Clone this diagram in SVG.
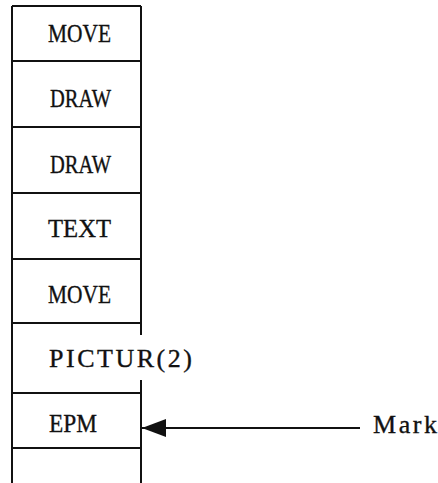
<svg xmlns="http://www.w3.org/2000/svg" width="438" height="483" viewBox="0 0 438 483">
<defs>
<style>
.t{font-family:"Liberation Serif","Times New Roman",serif;font-size:26px;fill:#111;stroke:#111;stroke-width:0.35}
.ln{stroke:#111;stroke-width:2;fill:none}
</style>
<marker id="ah" markerUnits="userSpaceOnUse" markerWidth="26" markerHeight="20" refX="24" refY="9" orient="auto" viewBox="0 0 26 18">
<path d="M0,0 L24,9 L0,18 Z" fill="#111"/>
</marker>
</defs>
<rect width="438" height="483" fill="#fff"/>
<g id="stack" class="ln">
<path d="M12,6 V483"/>
<path d="M12,6 H141"/>
<path d="M141,6 V335 M141,380 V483"/>
</g>
<g id="n1"><path class="ln" d="M12,61 H141"/><text class="t" x="48" y="42" textLength="63" lengthAdjust="spacingAndGlyphs">MOVE</text></g>
<g id="n2"><path class="ln" d="M12,127 H141"/><text class="t" x="50" y="107" textLength="61" lengthAdjust="spacingAndGlyphs">DRAW</text></g>
<g id="n3"><path class="ln" d="M12,193 H141"/><text class="t" x="50" y="173" textLength="61" lengthAdjust="spacingAndGlyphs">DRAW</text></g>
<g id="n4"><path class="ln" d="M12,259 H141"/><text class="t" x="48" y="237" textLength="63" lengthAdjust="spacingAndGlyphs">TEXT</text></g>
<g id="n5"><path class="ln" d="M12,323 H141"/><text class="t" x="48" y="303" textLength="63" lengthAdjust="spacingAndGlyphs">MOVE</text></g>
<g id="n6"><path class="ln" d="M12,393 H141"/><text class="t" x="49" y="367" textLength="143" lengthAdjust="spacing">PICTUR(2)</text></g>
<g id="n7"><path class="ln" d="M12,448 H141"/><text class="t" x="49" y="432" textLength="48" lengthAdjust="spacingAndGlyphs">EPM</text></g>
<g id="n8"></g>
<g id="mark"><text class="t" x="373" y="433" textLength="64" lengthAdjust="spacing">Mark</text></g>
<g id="connectors">
<path class="ln" d="M360,428 H142" marker-end="url(#ah)"/>
</g>
</svg>
